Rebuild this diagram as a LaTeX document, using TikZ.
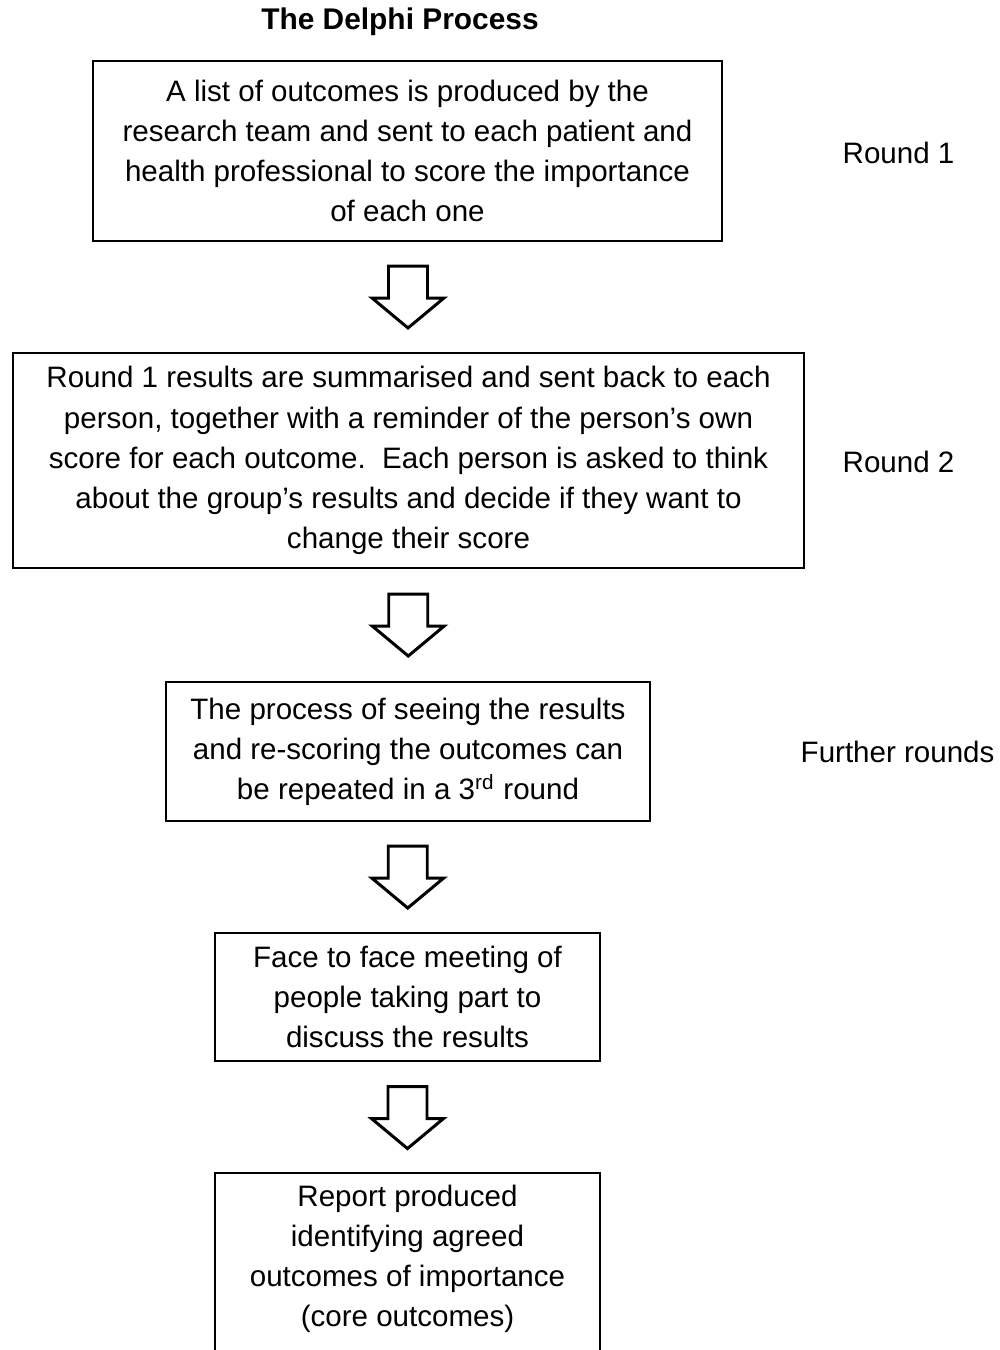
\documentclass[tikz,border=0pt]{standalone}
\usepackage{fontspec}
\setmainfont{Liberation Sans}
\usetikzlibrary{calc}

\begin{document}
\begin{tikzpicture}[x=0.01cm, y=-0.01cm,
    every node/.style={font=\fontsize{8.4}{11.4}\selectfont},
    box/.style={draw, line width=0.6pt, align=center, inner sep=0pt},
    roundlabel/.style={anchor=west, inner sep=0pt},
    downarrow/.pic={
        \draw[line width=0.85pt, line join=miter, fill=white]
            (-19.5,-31) -- (19.5,-31) -- (19.5,1) -- (36,1) -- (0,31)
            -- (-36,1) -- (-19.5,1) -- cycle;
    }]
    \useasboundingbox (0,0) rectangle (1000,1350);

    \node[font=\fontsize{8.5}{10}\selectfont\bfseries] (title) at (400,22) {The Delphi Process};

    \node[box, minimum width=6.29cm, minimum height=1.80cm] (b1) at (407.5,151)
        {A list of outcomes is produced by the\\research team and sent to each patient and\\health professional to score the importance\\of each one};
    \node[box, minimum width=7.91cm, minimum height=2.15cm] (b2) at (408.5,460.5)
        {Round 1 results are summarised and sent back to each\\person, together with a reminder of the person's own\\score for each outcome.\ \ Each person is asked to think\\about the group's results and decide if they want to\\change their score};
    \node[box, minimum width=4.84cm, minimum height=1.39cm] (b3) at (408,751.5)
        {The process of seeing the results\\and re-scoring the outcomes can\\be repeated in a 3\textsuperscript{rd} round};
    \node[box, minimum width=3.85cm, minimum height=1.28cm] (b4) at (407.5,997)
        {Face to face meeting of\\people taking part to\\discuss the results};
    \node[align=center, inner sep=0pt] (b5) at (407.5,1258.5)
        {Report produced\\identifying agreed\\outcomes of importance\\(core outcomes)};
    \coordinate (b5top) at (407.5,1173);
    \draw[line width=0.6pt] (215,1173) rectangle (600,1400);

    \node[roundlabel] (r1) at (842,153) {Round 1};
    \node[roundlabel] (r2) at (842,462) {Round 2};
    \node[roundlabel] (r3) at (800,752) {Further rounds};

    % block arrows between the boxes
    \pic at ($(b1.south)!0.5!(b2.north)$) {downarrow};
    \pic at ($(b2.south)!0.5!(b3.north)$) {downarrow};
    \pic at ($(b3.south)!0.5!(b4.north)$) {downarrow};
    \pic at ($(b4.south)!0.5!(b5top)$) {downarrow};
\end{tikzpicture}
\end{document}
